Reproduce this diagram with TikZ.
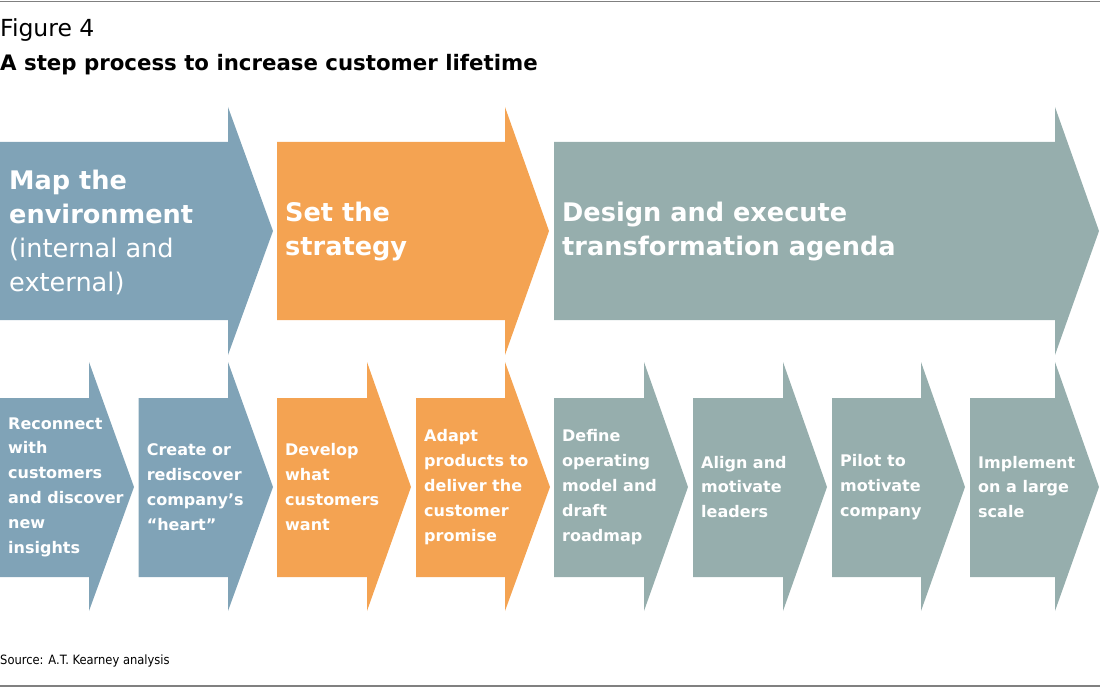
\documentclass[tikz,border=0pt]{standalone}
\usepackage{fontspec}
\setmainfont{DejaVu Sans}
\newfontfamily\lightfont{DejaVu Sans ExtraLight}
\newfontfamily\sourcefont{DejaVu Sans Condensed}
\definecolor{mapblue}{RGB}{128,163,183}
\definecolor{setorange}{RGB}{244,163,82}
\definecolor{designgrey}{RGB}{150,174,173}
\definecolor{rulegrey}{RGB}{128,128,128}
\begin{document}
\begin{tikzpicture}[x=1pt,y=-1pt,
    phase/.style={text=white,align=left,anchor=west,inner sep=0pt,font=\fontsize{25.6}{34}\selectfont\bfseries},
    task/.style={text=white,align=left,anchor=west,inner sep=0pt,font=\fontsize{16}{24.8}\selectfont\bfseries}]
	\useasboundingbox (0,0) rectangle (1100,687);
	\draw[rulegrey,line width=1.5pt] (0,1.5) -- (1100,1.5);
	\draw[rulegrey,line width=1.5pt] (0,686) -- (1100,686);
	\node[anchor=base west,inner sep=0pt,font=\fontsize{23.5}{28}\selectfont] (fig) at (0,37) {Figure 4};
	\node[anchor=base west,inner sep=0pt,font=\fontsize{21.3}{26}\selectfont\bfseries] (title) at (0,71) {A step process to increase customer lifetime};
	% phases
	\foreach \a/\b/\t/\c in {0/228/273/mapblue,277/505/549/setorange,554/1055/1099/designgrey}
	    \fill[\c] (\a,142) -- (\b,142) -- (\b,107) -- (\t,231) -- (\b,355) -- (\b,320) -- (\a,320) -- cycle;
	% tasks
	\foreach \a/\b/\t/\c in {0/89/134/mapblue,138.6/228/273/mapblue,277/367/411/setorange,416/505/550/setorange,
	    554/644/688/designgrey,693/783/827/designgrey,832/921/965/designgrey,970/1055/1099/designgrey}
	    \fill[\c] (\a,398) -- (\b,398) -- (\b,362) -- (\t,487) -- (\b,611) -- (\b,577) -- (\a,577) -- cycle;
	\node[phase] (map) at (9,232) {Map the\\environment\\{\lightfont (internal and}\\{\lightfont external)}};
	\node[phase] (set) at (285,232) {Set the\\strategy};
	\node[phase] (design) at (562,232) {Design and execute\\transformation agenda};
	\node[task] (reconnect) at (8,487) {Reconnect\\with\\customers\\and discover\\new\\insights};
	\node[task] (heart) at (146.6,487) {Create or\\rediscover\\company’s\\“heart”};
	\node[task] (develop) at (285,487) {Develop\\what\\customers\\want};
	\node[task] (adapt) at (424,487) {Adapt\\products to\\deliver the\\customer\\promise};
	\node[task] (define) at (562,487) {Define\\operating\\model and\\draft\\roadmap};
	\node[task] (align) at (701,487) {Align and\\motivate\\leaders};
	\node[task] (pilot) at (840,487) {Pilot to\\motivate\\company};
	\node[task] (implement) at (978,487) {Implement\\on a large\\scale};
	\node[anchor=base west,inner sep=0pt,font=\sourcefont\fontsize{12.8}{15}\selectfont] (source) at (0,664) {Source: A.T. Kearney analysis};
\end{tikzpicture}
\end{document}
